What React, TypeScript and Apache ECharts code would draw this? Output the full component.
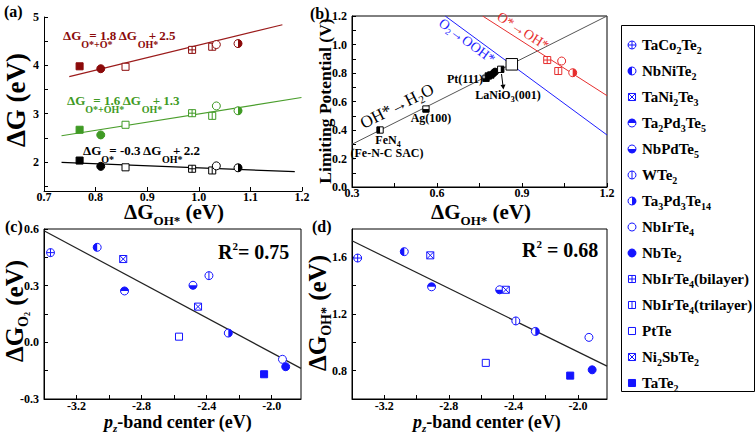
import React, { useEffect, useRef } from 'react';
import * as echarts from 'echarts';

const SERIF = '"Liberation Serif", "Times New Roman", Times, serif';
const BLUE = '#1414ff';
const DARKRED = '#8b0a0a';
const GREEN = '#3f9a24';
const BRED = '#e62e2e';
const BBLUE = '#1e1eff';

// ---------- legend ----------
const legendNames = ['TaCo2Te2', 'NbNiTe2', 'TaNi2Te3', 'Ta2Pd3Te5', 'NbPdTe5', 'WTe2', 'Ta3Pd3Te14', 'NbIrTe4', 'NbTe2', 'NbIrTe4(bilayer)', 'NbIrTe4(trilayer)', 'PtTe', 'Ni2SbTe2', 'TaTe2'];
const legendKinds = ['circlePlus', 'halfLeft', 'squareX', 'halfTop', 'halfBottom', 'circleVLine', 'halfRight', 'circleOpen', 'circleFilled', 'squarePlus', 'squareVLine', 'squareOpen', 'squareX', 'squareFilled'];
const kindOf = (n: string) => legendKinds[legendNames.indexOf(n)];

// ---------- panel (a) ----------
const aNames = ['TaTe2', 'NbTe2', 'PtTe', 'NbIrTe4(bilayer)', 'NbIrTe4(trilayer)', 'NbIrTe4', 'Ta3Pd3Te14'];
const aOH = [0.769, 0.81, 0.858, 0.987, 1.026, 1.034, 1.076];
const aOplusO = [3.98, 3.93, 3.97, 4.32, 4.385, 4.43, 4.45];
const aOplusOH = [2.667, 2.56, 2.77, 3.01, 2.955, 3.16, 3.06];
const aO = [2.03, 1.91, 1.89, 1.86, 1.825, 1.92, 1.88];
const aFitOOx = [0.749, 1.162];
const aFitOOy = [3.767, 4.84];
const aFitOOHx = [0.734, 1.199];
const aFitOOHy = [2.543, 3.334];
const aFitOx = [0.734, 1.186];
const aFitOy = [1.994, 1.8];
const aTickX = [0.7, 0.8, 0.9, 1.0, 1.1, 1.2];
const aLabelY = [2, 3, 4, 5];
const aTickY = [1.5, 2, 2.5, 3, 3.5, 4, 4.5, 5];

// ---------- panel (b) ----------
const bLineOHx = [0.3, 1.2];
const bLineOHy = [0.3, 1.2];
const bLineOOHx = [0.629, 1.2];
const bLineOOHy = [1.2, 0.365];
const bLineOx = [0.761, 1.2];
const bLineOy = [1.2, 0.641];
const bRefNames = ['FeN4', 'Ag(100)', 'Pt(111)', 'Pt(111)', 'Pt(111)', 'Pt(111)', 'Pt(111)', 'LaNiO3(001)', 'Top'];
const bRefX = [0.399, 0.561, 0.773, 0.781, 0.79, 0.799, 0.805, 0.825, 0.864];
const bRefY = [0.4, 0.547, 0.763, 0.779, 0.786, 0.798, 0.809, 0.826, 0.861];
const bRefKinds = ['sqHalfLeft', 'sqHalfBottom', 'sqHalfBottom', 'squareFilled', 'squareFilled', 'circleFilled', 'circleFilled', 'sqHalfRight', 'squareBig'];
const bNames = ['NbIrTe4(bilayer)', 'NbIrTe4', 'NbIrTe4(trilayer)', 'Ta3Pd3Te14'];
const bX = [0.989, 1.04, 1.028, 1.079];
const bY = [0.891, 0.884, 0.814, 0.802];
const bLabelX = [0.3, 0.6, 0.9, 1.2];
const bTickX = [0.3, 0.45, 0.6, 0.75, 0.9, 1.05, 1.2];
const bLabelY = [0, 0.2, 0.4, 0.6, 0.8, 1.0, 1.2];
const bTickY = [0, 0.1, 0.2, 0.3, 0.4, 0.5, 0.6, 0.7, 0.8, 0.9, 1.0, 1.1, 1.2];

// ---------- panels (c) & (d) ----------
const cdNames = ['TaCo2Te2', 'NbNiTe2', 'TaNi2Te3', 'Ta2Pd3Te5', 'NbPdTe5', 'WTe2', 'Ta3Pd3Te14', 'NbIrTe4', 'NbTe2', 'PtTe', 'Ni2SbTe2', 'TaTe2'];
const cPz = [-3.36, -3.073, -2.913, -2.905, -2.484, -2.386, -2.267, -1.934, -1.914, -2.57, -2.453, -2.047];
const cdGO2 = [0.475, 0.503, 0.441, 0.272, 0.302, 0.353, 0.049, -0.09, -0.129, 0.03, 0.189, -0.169];
const dPz = [-3.365, -3.076, -2.915, -2.907, -2.485, -2.385, -2.264, -1.932, -1.912, -2.571, -2.447, -2.048];
const dGOH = [1.595, 1.64, 1.614, 1.392, 1.371, 1.151, 1.077, 1.035, 0.806, 0.855, 1.371, 0.765];
const cFitX = [-3.4, -1.82];
const cFitY = [0.591, -0.138];
const dFitX = [-3.4, -1.82];
const dFitY = [1.717, 0.832];
const cdLabelX = [-3.2, -2.8, -2.4, -2.0];
const cdTickX = [-3.2, -3.0, -2.8, -2.6, -2.4, -2.2, -2.0];
const cLabelY = [-0.3, 0, 0.3, 0.6];
const cTickY = [-0.3, -0.15, 0, 0.15, 0.3, 0.45, 0.6];
const dLabelY = [0.8, 1.2, 1.6];
const dTickY = [0.8, 1.0, 1.2, 1.4, 1.6];

// ---------- helpers ----------
function markerShapes(kind: string, cx: number, cy: number, r: number, color: string): any[] {
  const lw = 1;
  const h = r * 0.88;
  const P = Math.PI;
  const d = r * 0.707;
  const circle = (fill: string) => ({ type: 'circle', shape: { cx, cy, r }, style: { fill, stroke: color, lineWidth: lw } });
  const square = (fill: string, hh = h) => ({ type: 'rect', shape: { x: cx - hh, y: cy - hh, width: 2 * hh, height: 2 * hh }, style: { fill, stroke: color, lineWidth: lw } });
  const seg = (x1: number, y1: number, x2: number, y2: number) => ({ type: 'line', shape: { x1, y1, x2, y2 }, style: { stroke: color, lineWidth: lw } });
  const half = (a0: number, a1: number) => ({ type: 'sector', shape: { cx, cy, r0: 0, r, startAngle: a0, endAngle: a1, clockwise: true }, style: { fill: color } });
  const rh = (x: number, y: number, w: number, hh: number) => ({ type: 'rect', shape: { x, y, width: w, height: hh }, style: { fill: color } });
  switch (kind) {
    case 'circleOpen': return [circle('#fff')];
    case 'circleFilled': return [circle(color)];
    case 'circlePlus': return [circle('#fff'), seg(cx - r, cy, cx + r, cy), seg(cx, cy - r, cx, cy + r)];
    case 'circleX': return [circle('#fff'), seg(cx - d, cy - d, cx + d, cy + d), seg(cx - d, cy + d, cx + d, cy - d)];
    case 'circleVLine': return [circle('#fff'), seg(cx, cy - r, cx, cy + r)];
    case 'halfLeft': return [circle('#fff'), half(P / 2, 1.5 * P)];
    case 'halfRight': return [circle('#fff'), half(-P / 2, P / 2)];
    case 'halfTop': return [circle('#fff'), half(P, 2 * P)];
    case 'halfBottom': return [circle('#fff'), half(0, P)];
    case 'squareOpen': return [square('#fff')];
    case 'squareBig': return [square('#fff', r * 1.6)];
    case 'squareFilled': return [square(color)];
    case 'squarePlus': return [square('#fff'), seg(cx - h, cy, cx + h, cy), seg(cx, cy - h, cx, cy + h)];
    case 'squareX': return [square('#fff'), seg(cx - h, cy - h, cx + h, cy + h), seg(cx - h, cy + h, cx + h, cy - h)];
    case 'squareVLine': return [square('#fff'), seg(cx, cy - h, cx, cy + h)];
    case 'sqHalfLeft': return [square('#fff'), rh(cx - h, cy - h, h, 2 * h)];
    case 'sqHalfRight': return [square('#fff'), rh(cx, cy - h, h, 2 * h)];
    case 'sqHalfBottom': return [square('#fff'), rh(cx - h, cy, 2 * h, h)];
    default: return [circle('#fff')];
  }
}

function markerSeries(idx: number, xs: number[], ys: number[], kinds: string[], color: string, r: number) {
  return {
    type: 'custom', xAxisIndex: idx, yAxisIndex: idx, z: 5, clip: false, silent: true,
    data: xs.map((x, i) => [x, ys[i]]),
    encode: { x: 0, y: 1 },
    renderItem: (params: any, api: any) => {
      const p = api.coord([api.value(0), api.value(1)]);
      return { type: 'group', children: markerShapes(kinds[params.dataIndex], p[0], p[1], r, color) };
    },
  };
}

function fitSeries(idx: number, xs: number[], ys: number[], color: string, width = 1.2) {
  return {
    type: 'line', xAxisIndex: idx, yAxisIndex: idx, z: 2, silent: true, symbol: 'none',
    data: xs.map((x, i) => [x, ys[i]]),
    lineStyle: { color, width },
  };
}

const f1 = (v: number) => Number(v).toFixed(1);

function axis(gridIndex: number, min: number, max: number, labels: number[], ticks: number[], fmt: (v: number) => string, margin: number) {
  return {
    type: 'value', gridIndex, min, max,
    axisLine: { show: true, onZero: false, lineStyle: { color: '#000', width: 1 } },
    axisTick: { show: true, inside: true, length: 4, customValues: ticks, lineStyle: { color: '#000', width: 1 } },
    axisLabel: { show: true, customValues: labels, formatter: fmt, color: '#000', fontFamily: SERIF, fontWeight: 'bold', fontSize: 12, margin },
    splitLine: { show: false },
  };
}

let measureCtx: CanvasRenderingContext2D | null = null;
function measure(t: string, fs: number, weight: string, italic: boolean) {
  if (!measureCtx) measureCtx = document.createElement('canvas').getContext('2d');
  if (!measureCtx) return t.length * fs * 0.5;
  measureCtx.font = `${italic ? 'italic ' : ''}${weight} ${fs}px ${SERIF}`;
  return measureCtx.measureText(t).width;
}

type Seg = { t: string; fs: number; dy?: number; w?: number; italic?: boolean };

// a run of text pieces (for sub/superscripts), laid out left to right
function run(x: number, y: number, segs: Seg[], o: any = {}) {
  const weight = o.weight ?? 'bold';
  const color = o.color ?? '#000';
  const widths = segs.map((s) => (s.w != null ? s.w : measure(s.t, s.fs, weight, !!s.italic)));
  const total = widths.reduce((a, b) => a + b, 0);
  let cx = o.align === 'center' ? -total / 2 : 0;
  const children = segs.map((s, i) => {
    const el = {
      type: 'text', x: cx, y: s.dy ?? 0, silent: true, z: 100,
      style: {
        text: s.t, fill: color, fontSize: s.fs, fontFamily: SERIF, fontWeight: weight,
        fontStyle: s.italic ? 'italic' : 'normal', align: 'left', verticalAlign: 'middle',
      },
    };
    cx += widths[i];
    return el;
  });
  return { type: 'group', x, y, rotation: o.rot ?? 0, silent: true, z: 100, children };
}

function T(x: number, y: number, text: string, o: any = {}) {
  return run(x, y, [{ t: text, fs: o.fs ?? 12 }], { align: o.align ?? 'center', ...o });
}

function chemSegs(name: string, fs: number, sfs: number, dy: number): Seg[] {
  return name.split(/(\d+)/).filter((p) => p.length > 0).map((p) => (/^\d+$/.test(p) ? { t: p, fs: sfs, dy } : { t: p, fs }));
}

function buildGraphic() {
  const els: any[] = [];
  // panel letters
  els.push(T(4, 11, '(a)', { align: 'left', fs: 16 }));
  els.push(T(310, 13, '(b)', { align: 'left', fs: 16 }));
  els.push(T(5, 226, '(c)', { align: 'left', fs: 16 }));
  els.push(T(312, 226, '(d)', { align: 'left', fs: 16 }));

  // axis titles
  const dgOH = (fs: number, sfs: number, dy: number): Seg[] => [{ t: 'ΔG', fs }, { t: 'OH*', fs: sfs, dy }, { t: ' (eV)', fs }];
  els.push(run(174, 212, dgOH(21, 13, 8), { align: 'center' }));
  els.push(run(481, 212, dgOH(21, 13, 8), { align: 'center' }));
  els.push(T(16, 100, 'ΔG (eV)', { fs: 27, rot: Math.PI / 2 }));
  els.push(T(325, 101, 'Limiting Potential (V)', { fs: 17.5, rot: Math.PI / 2 }));
  els.push(run(14, 311, [{ t: 'ΔG', fs: 25 }, { t: 'O', fs: 14, dy: 9 }, { t: '2', fs: 8, dy: 13 }, { t: ' (eV)', fs: 25 }], { align: 'center', rot: Math.PI / 2 }));
  els.push(run(317, 313, dgOH(25, 14, 9), { align: 'center', rot: Math.PI / 2 }));
  const pz: Seg[] = [{ t: 'p', fs: 18, italic: true }, { t: 'z', fs: 11, dy: 6, italic: true }, { t: '-band center (eV)', fs: 18 }];
  els.push(run(178, 422, pz, { align: 'center' }));
  els.push(run(487, 422, pz, { align: 'center' }));

  // equations in (a)
  const eq = (sub: string, mid: string, tail: string): Seg[] => [
    { t: 'ΔG', fs: 13 }, { t: sub, fs: 10, dy: 9, w: 8 }, { t: mid, fs: 13 }, { t: 'OH*', fs: 10, dy: 9, w: 11 }, { t: tail, fs: 13 },
  ];
  els.push(run(63, 35, eq('O*+O*', '= 1.8 ΔG', '+ 2.5'), { color: DARKRED }));
  els.push(run(67, 100, eq('O*+OH*', '= 1.6 ΔG', '+ 1.3'), { color: GREEN }));
  els.push(run(83, 150, eq('O*', '= -0.3 ΔG', '+ 2.2'), { color: '#000' }));

  // panel (b) annotations
  els.push(T(523, 31, 'O*→OH*', { fs: 14, weight: 'normal', color: BRED, rot: -0.573 }));
  els.push(run(467, 41, [{ t: 'O', fs: 14 }, { t: '2', fs: 9, dy: 4 }, { t: '→OOH*', fs: 14 }], { align: 'center', weight: 'normal', color: BBLUE, rot: -0.635 }));
  els.push(run(397, 106, [{ t: 'OH*→H', fs: 17 }, { t: '2', fs: 11, dy: 5 }, { t: 'O', fs: 17 }], { align: 'center', weight: 'normal', rot: 0.466 }));
  els.push(T(465, 79, 'Pt(111)', { fs: 12 }));
  els.push(run(508, 95, [{ t: 'LaNiO', fs: 12 }, { t: '3', fs: 8, dy: 4 }, { t: '(001)', fs: 12 }], { align: 'center' }));
  els.push(T(431, 118, 'Ag(100)', { fs: 12 }));
  els.push(run(388, 140, [{ t: 'FeN', fs: 12 }, { t: '4', fs: 8, dy: 4 }], { align: 'center' }));
  els.push(T(387, 153, '(Fe-N-C SAC)', { fs: 12 }));
  els.push({ type: 'line', silent: true, z: 100, shape: { x1: 501.5, y1: 74, x2: 503, y2: 86 }, style: { stroke: '#000', lineWidth: 1 } });
  els.push({ type: 'polygon', silent: true, z: 100, shape: { points: [[500.5, 85], [505.5, 84.4], [503.4, 89.5]] }, style: { fill: '#000' } });

  // R^2
  els.push(run(218, 252, [{ t: 'R', fs: 20 }, { t: '2', fs: 11, dy: -6 }, { t: '= 0.75', fs: 20 }]));
  els.push(run(522, 250, [{ t: 'R', fs: 20 }, { t: '2', fs: 11, dy: -6 }, { t: ' = 0.68', fs: 20 }]));

  // legend
  els.push({ type: 'rect', silent: true, z: 90, shape: { x: 621.5, y: 25.5, width: 133, height: 366 }, style: { fill: '#fff', stroke: '#000', lineWidth: 1 } });
  legendNames.forEach((n, i) => {
    const y = 45 + i * 26;
    markerShapes(legendKinds[i], 632, y, 4, BLUE).forEach((e) => els.push({ ...e, silent: true, z: 100 }));
    els.push(run(642, y, chemSegs(n, 15, 10, 5)));
  });
  return els;
}

function buildOption() {
  return {
    animation: false,
    backgroundColor: '#fff',
    grid: [
      { left: 44, top: 17, width: 258, height: 174 },
      { left: 352, top: 16, width: 255, height: 171, show: true, borderColor: '#000', borderWidth: 1 },
      { left: 44, top: 229, width: 257, height: 170, show: true, borderColor: '#000', borderWidth: 1 },
      { left: 352, top: 229, width: 255, height: 170, show: true, borderColor: '#000', borderWidth: 1 },
    ],
    xAxis: [
      axis(0, 0.7, 1.2, aTickX, aTickX, f1, 0),
      axis(1, 0.3, 1.2, bLabelX, bTickX, f1, 0),
      axis(2, -3.4, -1.82, cdLabelX, cdTickX, f1, 1),
      axis(3, -3.4, -1.82, cdLabelX, cdTickX, f1, 1),
    ],
    yAxis: [
      axis(0, 1.4, 5, aLabelY, aTickY, (v: number) => String(v), 5),
      axis(1, 0, 1.2, bLabelY, bTickY, f1, 5),
      axis(2, -0.3, 0.6, cLabelY, cTickY, f1, 5),
      axis(3, 0.6, 1.8, dLabelY, dTickY, f1, 5),
    ],
    series: [
      fitSeries(0, aFitOOx, aFitOOy, '#9b1b1b'),
      fitSeries(0, aFitOOHx, aFitOOHy, '#4a9e2c'),
      fitSeries(0, aFitOx, aFitOy, '#000'),
      markerSeries(0, aOH, aOplusO, aNames.map(kindOf), DARKRED, 4),
      markerSeries(0, aOH, aOplusOH, aNames.map(kindOf), GREEN, 4),
      markerSeries(0, aOH, aO, aNames.map(kindOf), '#000', 4),
      fitSeries(1, bLineOHx, bLineOHy, '#555', 1),
      fitSeries(1, bLineOOHx, bLineOOHy, BBLUE, 1),
      fitSeries(1, bLineOx, bLineOy, BRED, 1),
      markerSeries(1, bRefX, bRefY, bRefKinds, '#000', 3.6),
      markerSeries(1, bX, bY, bNames.map(kindOf), BRED, 4),
      fitSeries(2, cFitX, cFitY, '#222', 1.2),
      markerSeries(2, cPz, cdGO2, cdNames.map(kindOf), BLUE, 4),
      fitSeries(3, dFitX, dFitY, '#222', 1.2),
      markerSeries(3, dPz, dGOH, cdNames.map(kindOf), BLUE, 4),
    ],
    graphic: buildGraphic(),
  };
}

export default function App() {
  const ref = useRef<HTMLDivElement>(null);
  useEffect(() => {
    const chart = echarts.init(ref.current as HTMLDivElement, null, { renderer: 'svg' });
    chart.setOption(buildOption() as any);
    return () => chart.dispose();
  }, []);
  return <div ref={ref} style={{ position: 'fixed', left: 0, top: 0, width: 756, height: 434, background: '#fff' }} />;
}
